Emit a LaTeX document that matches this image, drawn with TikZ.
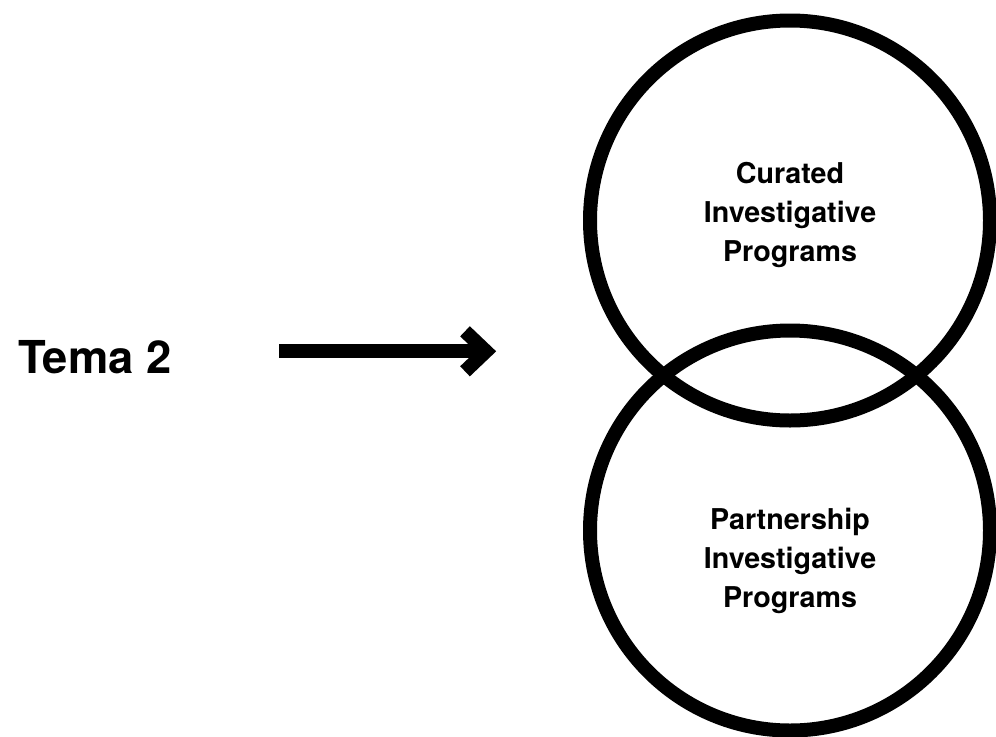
\documentclass[tikz,border=0pt]{standalone}
\usepackage{fontspec}
\setmainfont{TeX Gyre Heros}
\usetikzlibrary{calc}
\begin{document}
\begin{tikzpicture}[x=0.75pt,y=-0.75pt,
  ring/.style={circle, draw=black, line width=10.5pt, minimum size=300pt, inner sep=0pt},
  lbl/.style={align=center, font=\bfseries\fontsize{21.5}{29}\selectfont, inner sep=0pt},
  big/.style={font=\bfseries\fontsize{34}{40}\selectfont, inner sep=0pt, anchor=base west},
  arr/.style={line width=10.5pt, line join=miter}]
\useasboundingbox (0,0) rectangle (996,736);
\node[ring] (c1) at (790,220.5) {};
\node[ring] (c2) at (790,530.5) {};
\node[lbl] (t1) at (790,215) {Curated\\Investigative\\Programs};
\node[lbl] (t2) at (790,561) {Partnership\\Investigative\\Programs};
\node[big] (tema) at (18,373.3) {Tema 2};
\coordinate (as) at (279,351.3);
\coordinate (ae) at (486,351.3);
\draw[arr] (as) -- (ae);
\draw[arr] ($(ae)+(-21,-20)$) -- (ae) -- ($(ae)+(-21,20)$);
\end{tikzpicture}
\end{document}
